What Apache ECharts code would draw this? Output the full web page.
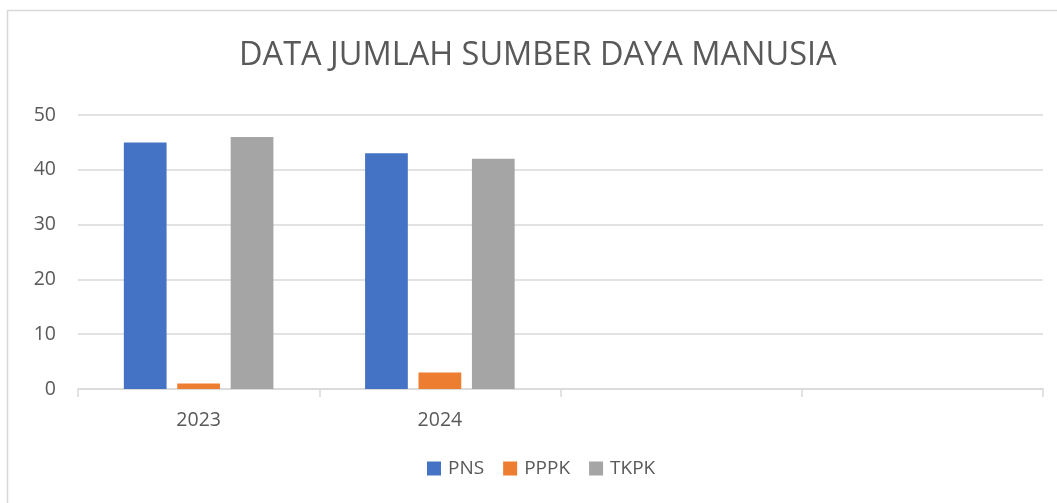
<!DOCTYPE html>
<html>
<head>
<meta charset="utf-8">
<script src="https://cdn.jsdelivr.net/npm/echarts@6/dist/echarts.min.js"></script>
<style>html,body{margin:0;padding:0;background:#fff;}#c{width:1057px;height:503px;}</style>
</head>
<body>
<div id="c"></div>
<script>
const categories = ['2023', '2024', '', ''];
const pns = [45, 43, null, null];
const pppk = [1, 3, null, null];
const tkpk = [46, 42, null, null];
const seriesNames = ['PNS', 'PPPK', 'TKPK'];
const colors = ['#4472C4', '#ED7D31', '#A5A5A5'];

const FONT = 'Open Sans';
const chart = echarts.init(document.getElementById('c'));
chart.setOption({
  animation: false,
  color: colors,
  textStyle: { fontFamily: FONT },
  graphic: [{
    type: 'rect', z: -1, silent: true,
    shape: { x: 7.5, y: 10.5, width: 1100, height: 600 },
    style: { fill: 'none', stroke: '#d9d9d9', lineWidth: 1.5 }
  }],
  title: {
    text: 'DATA JUMLAH SUMBER DAYA MANUSIA',
    left: 234, top: 34,
    textStyle: { fontFamily: FONT, fontSize: 32.5, fontWeight: 'normal', color: '#595959' }
  },
  legend: {
    data: seriesNames,
    top: 454, left: 422,
    itemWidth: 14, itemHeight: 14, itemGap: 19,
    icon: 'rect',
    textStyle: { fontFamily: FONT, fontSize: 19, color: '#595959', padding: [0, 0, 0, 2] }
  },
  grid: { left: 78, right: 14, top: 115, bottom: 114 },
  xAxis: {
    type: 'category',
    data: categories,
    axisLine: { lineStyle: { color: '#d9d9d9', width: 1.5 } },
    axisTick: { show: true, length: 8, lineStyle: { color: '#d9d9d9', width: 1.5 } },
    axisLabel: { fontFamily: FONT, fontSize: 19.5, color: '#595959', margin: 21 }
  },
  yAxis: {
    type: 'value', min: 0, max: 50, interval: 10,
    axisLine: { show: false }, axisTick: { show: false },
    splitLine: { lineStyle: { color: '#d9d9d9', width: 1.5 } },
    axisLabel: { fontFamily: FONT, fontSize: 19.5, color: '#595959', margin: 22 }
  },
  series: [
    { name: seriesNames[0], type: 'bar', data: pns, barGap: '25%', barCategoryGap: '38%' },
    { name: seriesNames[1], type: 'bar', data: pppk },
    { name: seriesNames[2], type: 'bar', data: tkpk }
  ]
});
</script>
</body>
</html>
